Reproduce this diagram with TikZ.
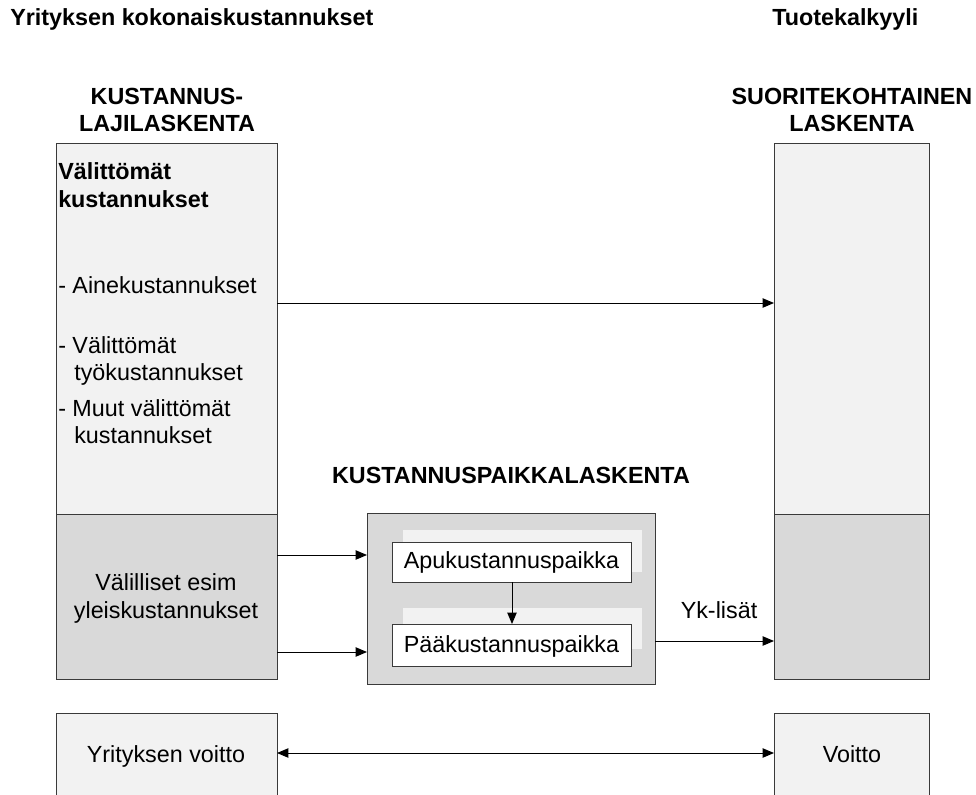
\documentclass[tikz,border=0pt]{standalone}
\usepackage{fontspec}
\setmainfont{Liberation Sans}
\usetikzlibrary{arrows.meta,fit}
\definecolor{lightg}{HTML}{F2F2F2}
\definecolor{darkg}{HTML}{D9D9D9}
\definecolor{edgec}{HTML}{3A3A3A}
\begin{document}
\begin{tikzpicture}[x=0.75pt,y=-0.75pt,
  box/.style={draw=edgec, line width=0.75pt, inner sep=0pt, outer sep=0pt},
  shade/.style={fill=lightg, draw=none, inner sep=0pt, outer sep=0pt},
  txt/.style={font=\fontsize{17.5}{20.25}\selectfont, inner sep=0pt, anchor=base},
  txtl/.style={txt, anchor=base west},
  btxt/.style={txt, font=\fontsize{17.5}{20.25}\selectfont\bfseries},
  btxtl/.style={btxt, anchor=base west},
  arr/.style={line width=0.75pt, -{Triangle[length=8.5pt,width=7pt]}},
  darr/.style={line width=0.75pt, {Triangle[length=8.5pt,width=7pt]}-{Triangle[length=8.5pt,width=7pt]}}
]
\clip (0,0) rectangle (976,794);
\fill[white] (0,0) rectangle (976,794);

% column boxes
\node[box, fill=lightg, fit={(56,143)(277,514)}] (ltop) {};
\node[box, fill=darkg, fit={(56,514)(277,679)}] (lbot) {};
\node[box, fill=lightg, fit={(774,143)(929,514)}] (rtop) {};
\node[box, fill=darkg, fit={(774,514)(929,679)}] (rbot) {};
\node[box, fill=lightg, fit={(56,713)(277,820)}] (lprof) {};
\node[box, fill=lightg, fit={(774,713)(929,820)}] (rprof) {};

% centre
\node[box, fill=darkg, fit={(367,513)(655,684)}] (center) {};
\node[shade, fit={(403,530)(642,572)}] (sh1) {};
\node[shade, fit={(403,608)(642,649)}] (sh2) {};
\node[box, fill=white, fit={(392,542)(631,582)}] (apu) {};
\node[box, fill=white, fit={(392,624)(631,666)}] (paa) {};

% texts
\node[btxtl] (t1) at (10,25) {Yrityksen kokonaiskustannukset};
\node[btxtl] (t2) at (772,25) {Tuotekalkyyli};
\node[btxt] (h1a) at (167,104) {KUSTANNUS-};
\node[btxt] (h1b) at (167,131) {LAJILASKENTA};
\node[btxt] (h2a) at (852,104) {SUORITEKOHTAINEN};
\node[btxt] (h2b) at (852,131) {LASKENTA};
\node[btxt] (h3) at (511,483) {KUSTANNUSPAIKKALASKENTA};

\node[btxtl] (va) at (58,179) {Välittömät};
\node[btxtl] (vb) at (58,207) {kustannukset};
\node[txtl] (a1) at (58,293) {- Ainekustannukset};
\node[txtl] (a2) at (58,353) {- Välittömät};
\node[txtl] (a2b) at (74,380) {työkustannukset};
\node[txtl] (a3) at (58,416) {- Muut välittömät};
\node[txtl] (a3b) at (74,443) {kustannukset};

\node[txt] (vl1) at (166,590) {Välilliset esim};
\node[txt] (vl2) at (166,618) {yleiskustannukset};
\node[txt] (apt) at (511.5,568) {Apukustannuspaikka};
\node[txt] (pat) at (511.5,652) {Pääkustannuspaikka};
\node[txt] (yk) at (719,618) {Yk-lisät};
\node[txt] (yv) at (166,762) {Yrityksen voitto};
\node[txt] (vo) at (852,762) {Voitto};

% connectors
\draw[arr] (ltop.east |- 0,303) -- (rtop.west |- 0,303);
\draw[arr] (lbot.east |- 0,555) -- (center.west |- 0,555);
\draw[arr] (lbot.east |- 0,652) -- (center.west |- 0,652);
\draw[arr] (apu.south -| 512,0) -- (paa.north -| 512,0);
\draw[arr] (center.east |- 0,641) -- (rbot.west |- 0,641);
\draw[darr] (lprof.east |- 0,753) -- (rprof.west |- 0,753);
\end{tikzpicture}
\end{document}
